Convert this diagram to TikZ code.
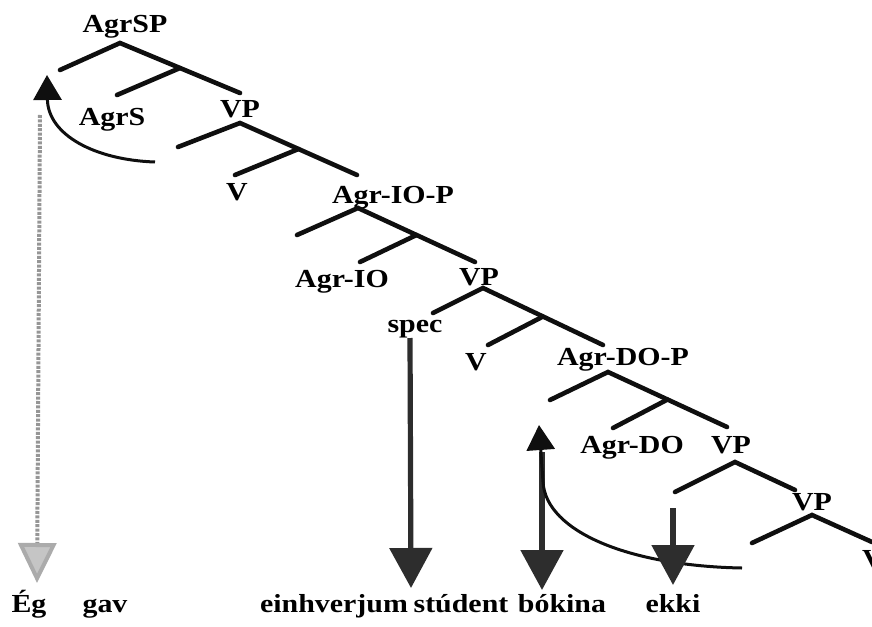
\documentclass[tikz,border=0pt]{standalone}
\usepackage{fontspec}
\setmainfont{Liberation Serif}[FakeStretch=1.15]
\usetikzlibrary{arrows.meta,calc}
\definecolor{treeblack}{RGB}{15,15,15}
\definecolor{movegray}{RGB}{45,45,45}
\definecolor{tracegray}{RGB}{150,150,150}
\tikzset{
  cat/.style={font=\fontsize{13}{15}\selectfont\bfseries,anchor=base,inner sep=0pt},
  word/.style={cat},
  branch/.style={treeblack,line width=2.3pt,line cap=round},
  movedown/.style={movegray,line width=2.6pt,-{Triangle[length=20pt,width=21pt]}},
  moveup/.style={treeblack,line width=1.5pt,-{Triangle[length=12.5pt,width=14pt]}},
  trace/.style={tracegray,line width=2pt,dash pattern=on 1.5pt off 0.7pt,
    -{Triangle[length=20pt,width=19pt,fill=tracegray!55,color=tracegray!80]}}
}
\begin{document}
\begin{tikzpicture}[x=0.5pt,y=-0.5pt]
\useasboundingbox (0,0) rectangle (872,626);
% category labels
\node[cat] (agrsp)  at (125,33)  {AgrSP};
\node[cat] (agrs)   at (112,126) {AgrS};
\node[cat] (vp1)    at (240,118) {VP};
\node[cat] (v1)     at (237,200) {V};
\node[cat] (agriop) at (393,203) {Agr-IO-P};
\node[cat] (agrio)  at (342,287) {Agr-IO};
\node[cat] (vp2)    at (479,285) {VP};
\node[cat] (spec)   at (415,332) {spec};
\node[cat] (v2)     at (476,370) {V};
\node[cat] (agrdop) at (623,365) {Agr-DO-P};
\node[cat] (agrdo)  at (632,453) {Agr-DO};
\node[cat] (vp3)    at (731,453) {VP};
\node[cat] (vp4)    at (812,510) {VP};
\node[cat] (v3)     at (873,567) {V};
% words
\node[word] (eg)   at (29,612)  {Ég};
\node[word] (gav)  at (105,612) {gav};
\node[word] (einh) at (334,612) {einhverjum};
\node[word] (stud) at (461,612) {stúdent};
\node[word] (bok)  at (562,612) {bókina};
\node[word] (ekki) at (673,612) {ekki};
% branch points: apex, spec end, complement end, head end
\foreach \n/\x/\y in {a1/120/43, s1/60/70, c1/240/93, h1/117/95,
                      a2/240/123, s2/178/147, c2/357/175, h2/235/175,
                      a3/358/208, s3/297/235, c3/475/262, h3/360/262,
                      a4/483/288, s4/433/313, c4/603/345, h4/488/345,
                      a5/608/372, s5/550/400, c5/727/427, h5/613/428,
                      a6/735/462, s6/675/492, c6/795/490,
                      a7/812/515, s7/752/543, c7/872/542} {
  \coordinate (\n) at (\x,\y);
}
\foreach \i in {1,...,5} {
  \coordinate (m\i) at ($(a\i)!0.5!(c\i)$);
}
% branches
\foreach \i in {1,...,7} {
  \draw[branch] (s\i) -- (a\i) -- (c\i);
}
\foreach \i in {1,...,5} {
  \draw[branch] (m\i) -- (h\i);
}
% movement arrows
\coordinate (eg-top) at (40,115);
\coordinate (eg-tip) at (37,583);
\draw[trace] (eg-top) -- (eg-tip);
\coordinate (agrs-from) at (155,162);
\coordinate (agrs-tip) at (47,75);
\draw[moveup] (agrs-from) .. controls (95,160) and (48,135) .. (agrs-tip);
\coordinate (spec-foot) at (410,338);
\coordinate (stud-tip) at (411,588);
\draw[movedown] (spec-foot) -- (stud-tip);
\coordinate (bok-top) at (542,452);
\coordinate (bok-tip) at (542,590);
\draw[movedown] (bok-top) -- (bok-tip);
\coordinate (neg-from) at (742,568);
\coordinate (neg-tip) at (539,425);
\draw[moveup] (neg-from) .. controls (630,566) and (546,532) .. (543,482) -- (neg-tip);
\coordinate (ekki-top) at (673,508);
\coordinate (ekki-tip) at (673,585);
\draw[movedown] (ekki-top) -- (ekki-tip);
\end{tikzpicture}
\end{document}
